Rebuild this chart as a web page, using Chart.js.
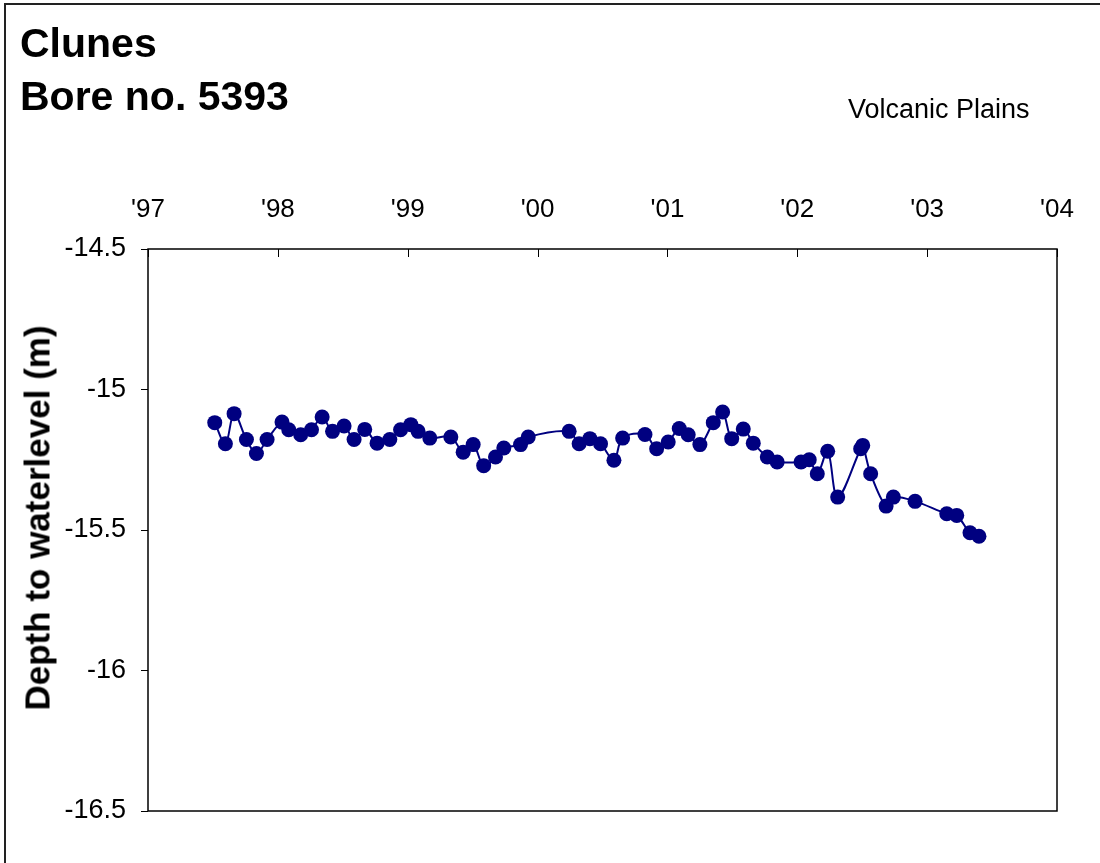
<!DOCTYPE html>
<html>
<head>
<meta charset="utf-8">
<title>Clunes Bore no. 5393</title>
<script src="https://cdn.jsdelivr.net/npm/chart.js@4.4.1/dist/chart.umd.min.js"></script>
<style>
    html, body {
        margin: 0;
        padding: 0;
        background: #ffffff;
        overflow: hidden;
    }

    #frame {
        position: absolute;
        left: 4px;
        top: 3px;
        width: 1200px;
        height: 1000px;
        border: 2px solid #222222;
    }

    #wrap {
        position: absolute;
        left: 0;
        top: 0;
        width: 1100px;
        height: 863px;
    }

    .label {
        position: absolute;
        font-family: "Liberation Sans", Arial, sans-serif;
        line-height: 1;
        color: #000000;
        white-space: nowrap;
        z-index: 2;
    }

    .big {
        font-size: 41px;
        font-weight: bold;
    }

    #yTitle {
        left: 37px;
        top: 518px;
        font-size: 35px;
        font-weight: bold;
        transform: translate(-50%, -50%) rotate(-90deg);
    }
</style>
</head>
<body>

<div id="frame"></div>

<div class="label big" style="left:20px; top:23px;">Clunes</div>
<div class="label big" style="left:20px; top:76px;">Bore no. 5393</div>
<div class="label" style="left:848px; top:96px; font-size:27px;">Volcanic Plains</div>
<div class="label" id="yTitle">Depth to waterlevel (m)</div>

<div id="wrap">
    <canvas id="boreChart" width="1100" height="863"></canvas>
</div>

<script>

// ======================================
// Data (decimal year, depth in m)
// ======================================

const readingDates = [
    1997.514, 1997.596, 1997.663, 1997.758, 1997.835, 1997.917,
    1998.032, 1998.084, 1998.176, 1998.259, 1998.341, 1998.421,
    1998.510, 1998.587, 1998.669, 1998.764, 1998.862, 1998.945,
    1999.024, 1999.080, 1999.170, 1999.332, 1999.427, 1999.504,
    1999.585, 1999.676, 1999.740, 1999.869, 1999.928,
    2000.243, 2000.320, 2000.403, 2000.485, 2000.588, 2000.655,
    2000.827, 2000.917, 2001.006, 2001.091, 2001.160, 2001.250,
    2001.353, 2001.425, 2001.495, 2001.584, 2001.661, 2001.769,
    2001.845, 2002.029, 2002.092, 2002.154, 2002.234, 2002.311,
    2002.488, 2002.504, 2002.565, 2002.684, 2002.740, 2002.907,
    2003.151, 2003.228, 2003.330, 2003.399
];

const depthValues = [
    -15.118, -15.193, -15.086, -15.178, -15.228, -15.178,
    -15.116, -15.143, -15.161, -15.143, -15.098, -15.149,
    -15.130, -15.178, -15.142, -15.191, -15.178, -15.143,
    -15.125, -15.149, -15.173, -15.169, -15.223, -15.196,
    -15.271, -15.240, -15.208, -15.196, -15.169,
    -15.149, -15.193, -15.175, -15.193, -15.252, -15.173,
    -15.160, -15.211, -15.187, -15.139, -15.161, -15.196,
    -15.118, -15.080, -15.175, -15.141, -15.191, -15.240,
    -15.258, -15.258, -15.250, -15.300, -15.220, -15.383,
    -15.211, -15.199, -15.300, -15.415, -15.383, -15.398,
    -15.442, -15.448, -15.510, -15.522
];

const yearTicks = [1997, 1998, 1999, 2000, 2001, 2002, 2003, 2004];

const depthTicks = [-14.5, -15, -15.5, -16, -16.5];

// ======================================
// Style
// ======================================

const navy = "#000080";
const ink = "#000000";
const fontFamily = "'Liberation Sans', Arial, sans-serif";

const points = readingDates.map((d, i) => ({
    x: d,
    y: depthValues[i]
}));

// ======================================
// Plot frame + inside ticks on top axis
// ======================================

const framePlugin = {

    id: "framePlugin",

    afterDatasetsDraw(chart) {

        const ctx = chart.ctx;
        const area = chart.chartArea;
        const xScale = chart.scales.x;

        ctx.save();

        ctx.strokeStyle = ink;
        ctx.lineWidth = 1.5;

        ctx.strokeRect(
            area.left,
            area.top,
            area.right - area.left,
            area.bottom - area.top
        );

        ctx.lineWidth = 1;

        yearTicks.forEach(year => {

            const px = Math.round(xScale.getPixelForValue(year)) + 0.5;

            ctx.beginPath();
            ctx.moveTo(px, area.top);
            ctx.lineTo(px, area.top + 8);
            ctx.stroke();

        });

        ctx.restore();

    }

};

// ======================================
// Chart
// ======================================

new Chart(document.getElementById("boreChart"), {

    type: "scatter",

    data: {

        datasets: [{

            label: "Depth to waterlevel",

            data: points,

            showLine: true,

            tension: 0.35,

            borderColor: navy,

            borderWidth: 2,

            pointRadius: 7.5,

            pointHoverRadius: 7.5,

            pointBackgroundColor: navy,

            pointBorderColor: navy,

            pointBorderWidth: 0

        }]

    },

    options: {

        responsive: false,

        animation: false,

        layout: {

            padding: {
                left: 0,
                top: 0,
                right: 43,
                bottom: 52
            }

        },

        plugins: {

            legend: {
                display: false
            },

            tooltip: {
                enabled: false
            }

        },

        scales: {

            x: {

                type: "linear",

                position: "top",

                min: 1997,

                max: 2004,

                afterBuildTicks(scale) {
                    scale.ticks = yearTicks.map(v => ({ value: v }));
                },

                afterFit(scale) {
                    scale.height = 249;
                },

                ticks: {

                    color: ink,

                    padding: 16,

                    maxRotation: 0,

                    font: {
                        family: fontFamily,
                        size: 26
                    },

                    callback: value => "'" + String(value).slice(2)

                },

                grid: {
                    display: false
                },

                border: {
                    display: false
                }

            },

            y: {

                min: -16.5,

                max: -14.5,

                afterBuildTicks(scale) {
                    scale.ticks = depthTicks.map(v => ({ value: v }));
                },

                afterFit(scale) {
                    scale.width = 148;
                },

                ticks: {

                    color: ink,

                    padding: 15,

                    font: {
                        family: fontFamily,
                        size: 27
                    },

                    callback: value => String(value)

                },

                grid: {

                    drawOnChartArea: false,

                    drawTicks: true,

                    tickLength: 7,

                    color: ink

                },

                border: {
                    display: false
                }

            }

        }

    },

    plugins: [framePlugin]

});

</script>
</body>
</html>
